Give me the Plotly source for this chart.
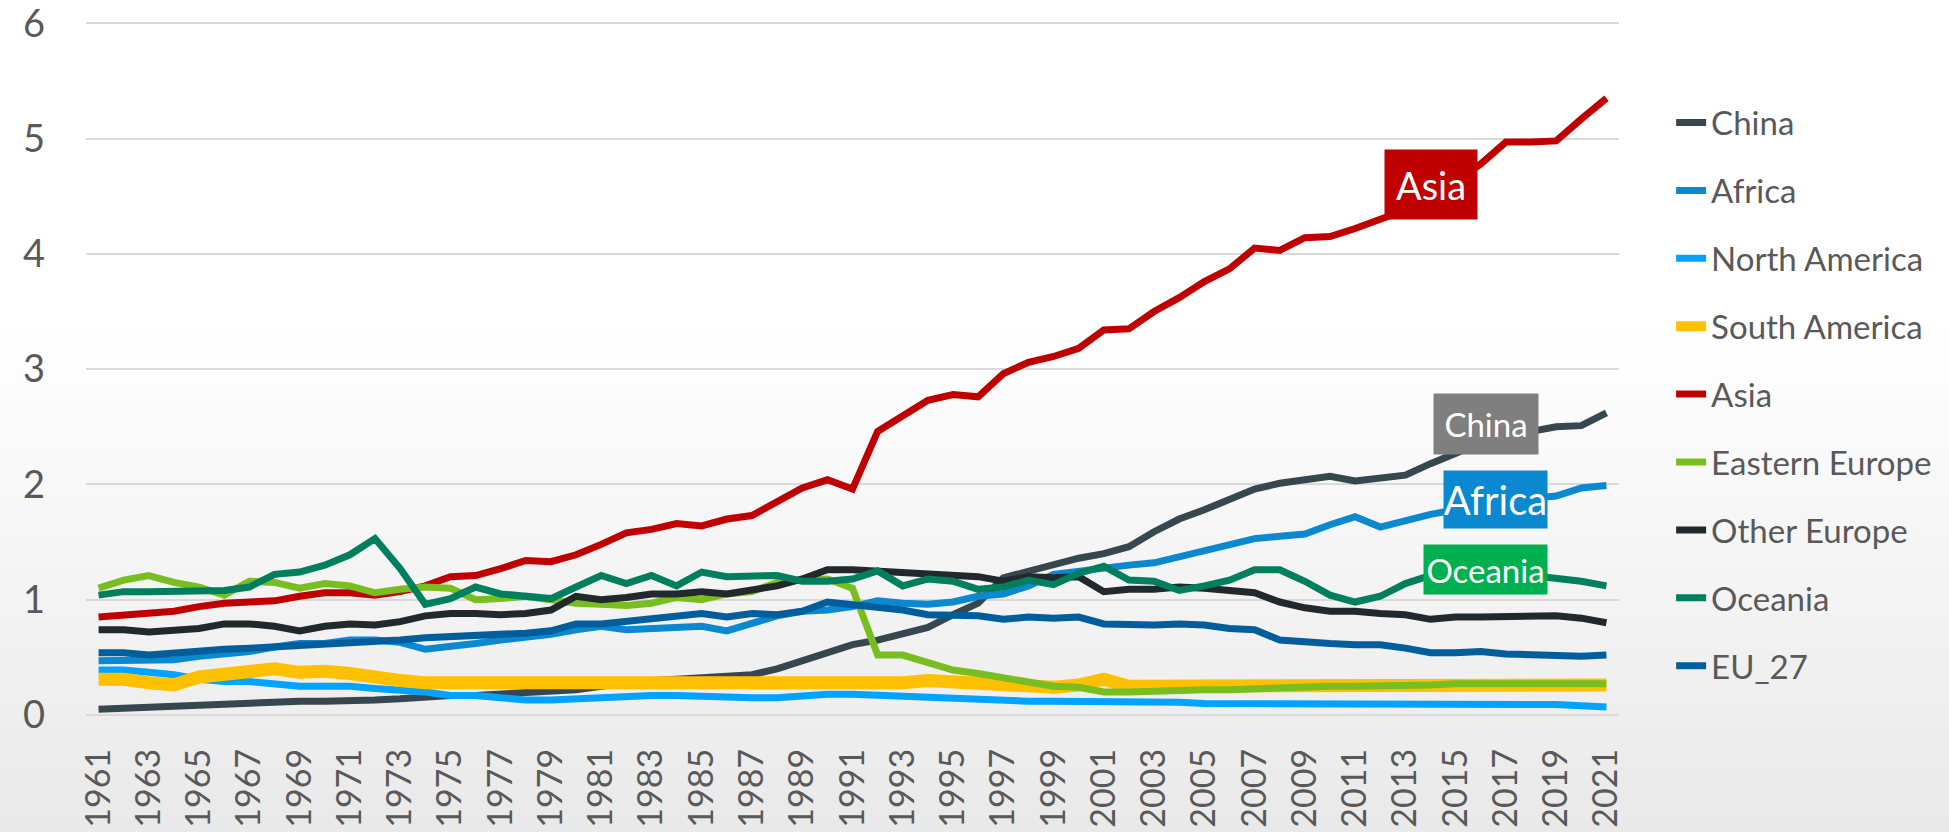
import plotly.graph_objects as go

years = list(range(1961, 2022))
tick_years = list(range(1961, 2022, 2))

china = [0.05,0.06,0.07,0.08,0.09,0.10,0.11,0.11,0.12,0.12,
         0.12,0.13,0.14,0.16,0.17,0.17,0.18,0.19,0.20,0.22,
         0.25,0.28,0.30,0.31,0.32,0.33,0.35,0.40,0.47,0.54,
         0.61,0.65,0.70,0.76,0.87,0.97,1.19,1.25,1.30,1.36,
         1.40,1.46,1.59,1.70,1.78,1.87,1.96,2.01,2.04,2.07,
         2.03,2.06,2.08,2.18,2.27,2.36,2.42,2.46,2.50,2.51,2.62]
africa = [0.47,0.47,0.47,0.48,0.51,0.53,0.55,0.59,0.62,0.62,
          0.65,0.65,0.63,0.57,0.59,0.62,0.65,0.67,0.70,0.74,
          0.77,0.74,0.75,0.76,0.77,0.73,0.80,0.86,0.90,0.91,
          0.94,0.99,0.97,0.96,0.98,1.03,1.05,1.12,1.22,1.25,
          1.27,1.30,1.32,1.37,1.42,1.47,1.53,1.55,1.57,1.65,
          1.72,1.63,1.69,1.74,1.78,1.82,1.85,1.88,1.90,1.97,1.99]
north_america = [0.39,0.39,0.37,0.35,0.31,0.29,0.29,0.27,0.25,0.25,
                 0.25,0.23,0.22,0.20,0.17,0.17,0.15,0.13,0.13,0.14,
                 0.15,0.17,0.17,0.17,0.16,0.16,0.15,0.15,0.17,0.18,
                 0.18,0.17,0.17,0.16,0.14,0.13,0.13,0.12,0.12,0.12,
                 0.11,0.11,0.11,0.11,0.10,0.10,0.09,0.09,0.09,0.09,
                 0.09,0.09,0.09,0.09,0.09,0.09,0.09,0.09,0.09,0.08,0.07]
south_america = [0.31,0.31,0.28,0.26,0.33,0.36,0.37,0.40,0.37,0.38,
                 0.36,0.32,0.30,0.28,0.28,0.28,0.28,0.28,0.27,0.27,
                 0.27,0.27,0.27,0.27,0.27,0.27,0.28,0.28,0.29,0.29,
                 0.28,0.28,0.28,0.30,0.29,0.27,0.26,0.24,0.24,0.26,
                 0.31,0.25,0.25,0.25,0.25,0.25,0.25,0.24,0.25,0.25,
                 0.25,0.25,0.25,0.25,0.25,0.25,0.25,0.25,0.25,0.25,0.26]
asia = [0.85,0.87,0.89,0.90,0.94,0.97,0.98,0.99,1.03,1.06,
        1.06,1.04,1.07,1.12,1.20,1.21,1.27,1.34,1.33,1.39,
        1.48,1.58,1.61,1.66,1.64,1.70,1.73,1.85,1.97,2.04,
        1.96,2.46,2.60,2.73,2.78,2.76,2.96,3.06,3.11,3.18,
        3.34,3.35,3.50,3.62,3.76,3.87,4.05,4.03,4.14,4.15,
        4.22,4.30,4.38,4.50,4.63,4.78,4.97,4.97,4.98,5.17,5.35]
eastern_europe = [1.10,1.17,1.21,1.15,1.11,1.04,1.16,1.15,1.10,1.14,
                  1.12,1.06,1.09,1.11,1.10,1.00,1.01,1.03,1.00,0.97,
                  0.96,0.95,0.97,1.02,1.00,1.05,1.07,1.15,1.17,1.18,
                  1.10,0.52,0.52,0.45,0.39,0.36,0.32,0.28,0.25,0.24,
                  0.20,0.20,0.21,0.21,0.22,0.22,0.23,0.23,0.24,0.25,
                  0.25,0.25,0.26,0.26,0.27,0.27,0.27,0.27,0.26,0.26,0.27]
other_europe = [0.74,0.74,0.72,0.74,0.75,0.79,0.79,0.77,0.73,0.77,
                0.79,0.78,0.81,0.86,0.88,0.88,0.87,0.88,0.91,1.03,
                1.00,1.02,1.05,1.05,1.07,1.05,1.09,1.12,1.18,1.26,
                1.26,1.25,1.24,1.23,1.22,1.20,1.16,1.20,1.19,1.20,
                1.07,1.09,1.09,1.11,1.10,1.08,1.06,0.98,0.93,0.90,
                0.90,0.88,0.87,0.83,0.85,0.85,0.85,0.85,0.86,0.84,0.80]
oceania = [1.04,1.07,1.07,1.07,1.08,1.08,1.11,1.22,1.24,1.30,
           1.39,1.53,1.27,0.96,1.01,1.11,1.05,1.03,1.01,1.11,
           1.21,1.14,1.21,1.12,1.24,1.20,1.20,1.21,1.16,1.16,
           1.18,1.25,1.12,1.18,1.16,1.09,1.11,1.17,1.13,1.23,
           1.29,1.17,1.16,1.08,1.12,1.17,1.26,1.26,1.16,1.04,
           0.98,1.03,1.14,1.21,1.24,1.24,1.23,1.21,1.19,1.16,1.12]
eu_27 = [0.54,0.54,0.52,0.54,0.56,0.57,0.58,0.59,0.61,0.61,
         0.63,0.64,0.65,0.67,0.68,0.68,0.70,0.71,0.73,0.79,
         0.79,0.81,0.83,0.86,0.88,0.85,0.88,0.87,0.90,0.98,
         0.96,0.93,0.91,0.87,0.87,0.86,0.83,0.85,0.84,0.85,
         0.79,0.78,0.78,0.79,0.78,0.75,0.74,0.65,0.63,0.62,
         0.61,0.61,0.58,0.54,0.54,0.55,0.53,0.52,0.52,0.51,0.52]

series_names = ["China", "Africa", "North America", "South America", "Asia",
                "Eastern Europe", "Other Europe", "Oceania", "EU_27"]
series_values = [china, africa, north_america, south_america, asia,
                 eastern_europe, other_europe, oceania, eu_27]
series_colors = ["#37474F", "#0A88D0", "#00A3FF", "#FFC000", "#C00000",
                 "#78BE20", "#21292D", "#007F5F", "#005E9C"]
series_widths = [7, 7, 7, 13, 7, 7, 7, 7, 7]

FONT = "Lato, 'Liberation Sans', Arial, sans-serif"
TXT = "#595959"

fig = go.Figure()
for name, vals, col, w in zip(series_names, series_values, series_colors, series_widths):
    fig.add_trace(go.Scatter(x=years, y=vals, name=name, mode="lines",
                             line=dict(color=col, width=w), legendgroup=name))

# figure geometry
W, H = 1949, 832
Y_TOP = 6.02
unit = 115.25
mb = 117
plot_h = unit * Y_TOP
mt = H - mb - plot_h
ml, mr = 86, 330

# background vertical gradient (white -> light gray)
shapes = []
y_start, y_end = 320, 832
n = 40
for i in range(n):
    p0 = y_start + (y_end - y_start) * i / n
    p1 = y_start + (y_end - y_start) * (i + 1) / n
    g = int(round(255 - (255 - 233) * (i + 0.5) / n))
    shapes.append(dict(type="rect", xref="paper", yref="paper",
                       x0=-0.2, x1=1.3,
                       y0=(H - mb - p1) / plot_h, y1=(H - mb - p0) / plot_h + 0.001,
                       fillcolor=f"rgb({g},{g},{g})", line=dict(width=0), layer="below"))

labels = [
    dict(text="Asia", x=2014.0, y=4.60, bg="#C00000", size=38, w=92, h=69),
    dict(text="China", x=2016.2, y=2.52, bg="#7F7F7F", size=33, w=104, h=60),
    dict(text="Africa", x=2016.6, y=1.87, bg="#0A88D0", size=40, w=103, h=57),
    dict(text="Oceania", x=2016.2, y=1.26, bg="#00B050", size=33, w=123, h=49),
]
annotations = []
for lb in labels:
    annotations.append(dict(text=lb["text"], x=lb["x"], y=lb["y"], xref="x", yref="y",
                            showarrow=False, bgcolor=lb["bg"], borderpad=0,
                            width=lb["w"], height=lb["h"],
                            font=dict(family=FONT, size=lb["size"], color="white")))

fig.update_layout(
    width=W, height=H,
    margin=dict(l=ml, r=mr, t=mt, b=mb, pad=0),
    paper_bgcolor="white", plot_bgcolor="rgba(0,0,0,0)",
    font=dict(family=FONT, color=TXT, size=34),
    shapes=shapes, annotations=annotations,
    showlegend=True,
    legend=dict(x=1.034, xanchor="left", y=0.894, yanchor="top",
                font=dict(family=FONT, size=33, color=TXT),
                bgcolor="rgba(0,0,0,0)", tracegroupgap=22, itemwidth=30),
    xaxis=dict(range=[1960.5, 2021.5], tickmode="array", tickvals=tick_years,
               ticktext=[str(y) for y in tick_years], tickangle=-90,
               showgrid=False, zeroline=False, showline=False, ticks="",
               automargin=False, ticklabeloverflow="allow",
               ticklabelstandoff=26, tickfont=dict(family=FONT, size=34, color=TXT)),
    yaxis=dict(range=[0, Y_TOP], tickmode="linear", tick0=0, dtick=1,
               showgrid=True, gridcolor="#D9D9D9", gridwidth=2,
               zeroline=True, zerolinecolor="#D9D9D9", zerolinewidth=2,
               showline=False, ticks="", ticklabelstandoff=40, automargin=False,
               ticklabeloverflow="allow",
               tickfont=dict(family=FONT, size=38, color=TXT)),
)

fig.write_html("out.html", config={"displayModeBar": False},
               post_script="document.body.style.margin='0';document.body.style.overflow='hidden';")
